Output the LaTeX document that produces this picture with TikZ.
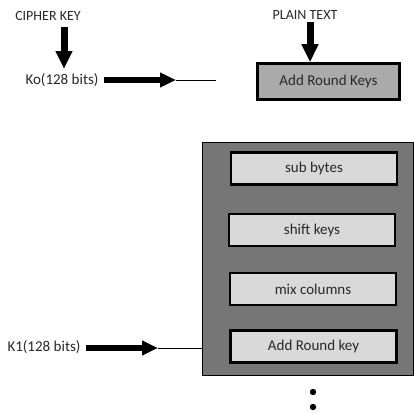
\documentclass[tikz,border=0pt]{standalone}
\usepackage{fontspec}
\setmainfont{Carlito}
\usetikzlibrary{arrows.meta}
\definecolor{keygray}{RGB}{170,170,170}
\definecolor{roundgray}{RGB}{118,118,118}
\definecolor{stepgray}{RGB}{217,217,217}
\definecolor{inkgray}{RGB}{40,40,40}
\tikzset{
  lbl/.style={text=inkgray,font=\fontsize{15}{17}\selectfont,inner sep=1pt},
  capslbl/.style={text=inkgray,font=\fontsize{14}{16}\selectfont,inner sep=1pt},
  stepbox/.style={draw,line width=2.5pt,fill=stepgray,minimum width=166pt,minimum height=32pt,
    text=inkgray,font=\fontsize{15}{17}\selectfont},
  fatarrow/.style={line width=6.5pt,-{Triangle[length=16pt,width=14pt]}},
  downarrow/.style={line width=7pt,-{Triangle[length=18pt,width=16pt]}},
  thinline/.style={line width=1pt}
}
\begin{document}
\begin{tikzpicture}[x=1pt,y=-1pt]
\useasboundingbox (0,0) rectangle (414,412);

\node[capslbl] (cipher) at (48,16) {CIPHER KEY};
\node[lbl] (ko) at (62,80) {Ko(128 bits)};
\node[capslbl] (plain) at (305,15) {PLAIN TEXT};

\node[draw,line width=2.5pt,fill=keygray,minimum width=142pt,minimum height=36pt,
  text=inkgray,font=\fontsize{15}{17}\selectfont] (ark) at (328.5,81.5) {Add Round Keys};

\node[draw,thin,fill=roundgray,minimum width=211pt,minimum height=233pt] (round) at (307.5,258.5) {};
\node[stepbox] (sub) at (314,168.5) {sub bytes};
\node[stepbox] (shift) at (312,230) {shift keys};
\node[stepbox] (mix) at (313,289) {mix columns};
\node[stepbox] (ark1) at (313.5,346.5) {Add Round key};

\node[lbl] (k1) at (44,347) {K1(128 bits)};

% key inputs
\coordinate (ctop) at (64,27);
\coordinate (cbot) at (64,69);
\draw[downarrow] (ctop) -- (cbot);
\coordinate (ptop) at (310,22);
\draw[downarrow] (ptop) -- (ptop |- ark.north);

\coordinate (kostart) at (104,80);
\coordinate (kotip) at (176,80);
\coordinate (koend) at (216,80);
\draw[fatarrow] (kostart) -- (kotip);
\draw[thinline] (kotip) -- (koend);

\coordinate (k1start) at (86,348);
\coordinate (k1tip) at (158,348);
\draw[fatarrow] (k1start) -- (k1tip);
\draw[thinline] (k1tip) -- (round.west |- k1tip);

% more rounds
\fill (313,392) circle (3.2pt);
\fill (313,407) circle (3.2pt);
\end{tikzpicture}
\end{document}
